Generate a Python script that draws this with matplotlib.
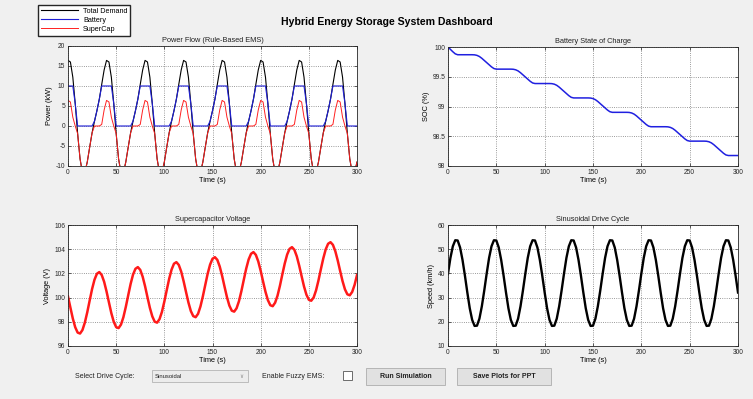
import numpy as np
import matplotlib.pyplot as plt
from matplotlib.patches import Rectangle

# ====================== data (2.5 s samples, 0..300 s) ======================
time_s = np.arange(121) * 2.5

total_demand = [
    16.4, 16.0, 12.2, 5.6, -1.9, -8.2, -11.7, -11.6, -9.0, -5.3, -1.7, 1.2, 3.8, 6.7, 10.4, 14.0,
    16.4, 16.0, 12.2, 5.6, -1.9, -8.2, -11.7, -11.6, -9.0, -5.3, -1.7, 1.2, 3.8, 6.7, 10.4, 14.0,
    16.4, 16.0, 12.2, 5.6, -1.9, -8.2, -11.7, -11.6, -9.0, -5.3, -1.7, 1.2, 3.8, 6.7, 10.4, 14.0,
    16.4, 16.0, 12.2, 5.6, -1.9, -8.2, -11.7, -11.6, -9.0, -5.3, -1.7, 1.2, 3.8, 6.7, 10.4, 14.0,
    16.4, 16.0, 12.2, 5.6, -1.9, -8.2, -11.7, -11.6, -9.0, -5.3, -1.7, 1.2, 3.8, 6.7, 10.4, 14.0,
    16.4, 16.0, 12.2, 5.6, -1.9, -8.2, -11.7, -11.6, -9.0, -5.3, -1.7, 1.2, 3.8, 6.7, 10.4, 14.0,
    16.4, 16.0, 12.2, 5.6, -1.9, -8.2, -11.7, -11.6, -9.0, -5.3, -1.7, 1.2, 3.8, 6.7, 10.4, 14.0,
    16.4, 16.0, 12.2, 5.6, -1.9, -8.2, -11.7, -11.6, -9.0,
]
battery_kw = [
    10, 10, 10, 5.6, 0, 0, 0, 0, 0, 0, 0, 1.2, 3.8, 6.7, 10, 10,
    10, 10, 10, 5.6, 0, 0, 0, 0, 0, 0, 0, 1.2, 3.8, 6.7, 10, 10,
    10, 10, 10, 5.6, 0, 0, 0, 0, 0, 0, 0, 1.2, 3.8, 6.7, 10, 10,
    10, 10, 10, 5.6, 0, 0, 0, 0, 0, 0, 0, 1.2, 3.8, 6.7, 10, 10,
    10, 10, 10, 5.6, 0, 0, 0, 0, 0, 0, 0, 1.2, 3.8, 6.7, 10, 10,
    10, 10, 10, 5.6, 0, 0, 0, 0, 0, 0, 0, 1.2, 3.8, 6.7, 10, 10,
    10, 10, 10, 5.6, 0, 0, 0, 0, 0, 0, 0, 1.2, 3.8, 6.7, 10, 10,
    10, 10, 10, 5.6, 0, 0, 0, 0, 0,
]
supercap_kw = [
    6.4, 6.0, 2.2, 0, -1.9, -8.2, -11.7, -11.6, -9.0, -5.3, -1.7, 0, 0, 0, 0.4, 4.0,
    6.4, 6.0, 2.2, 0, -1.9, -8.2, -11.7, -11.6, -9.0, -5.3, -1.7, 0, 0, 0, 0.4, 4.0,
    6.4, 6.0, 2.2, 0, -1.9, -8.2, -11.7, -11.6, -9.0, -5.3, -1.7, 0, 0, 0, 0.4, 4.0,
    6.4, 6.0, 2.2, 0, -1.9, -8.2, -11.7, -11.6, -9.0, -5.3, -1.7, 0, 0, 0, 0.4, 4.0,
    6.4, 6.0, 2.2, 0, -1.9, -8.2, -11.7, -11.6, -9.0, -5.3, -1.7, 0, 0, 0, 0.4, 4.0,
    6.4, 6.0, 2.2, 0, -1.9, -8.2, -11.7, -11.6, -9.0, -5.3, -1.7, 0, 0, 0, 0.4, 4.0,
    6.4, 6.0, 2.2, 0, -1.9, -8.2, -11.7, -11.6, -9.0, -5.3, -1.7, 0, 0, 0, 0.4, 4.0,
    6.4, 6.0, 2.2, 0, -1.9, -8.2, -11.7, -11.6, -9.0,
]

soc_pct = [
    100.00, 99.96, 99.92, 99.885, 99.87, 99.87, 99.87, 99.87, 99.87, 99.87, 99.87,
    99.868, 99.859, 99.840, 99.810, 99.774, 99.738, 99.702, 99.666, 99.638, 99.628,
    99.628, 99.628, 99.628, 99.628, 99.628, 99.628,
    99.626, 99.617, 99.598, 99.568, 99.532, 99.496, 99.460, 99.424, 99.396, 99.386,
    99.386, 99.386, 99.386, 99.386, 99.386, 99.386,
    99.384, 99.375, 99.356, 99.326, 99.290, 99.254, 99.218, 99.182, 99.154, 99.144,
    99.144, 99.144, 99.144, 99.144, 99.144, 99.144,
    99.142, 99.133, 99.114, 99.084, 99.048, 99.012, 98.976, 98.940, 98.912, 98.902,
    98.902, 98.902, 98.902, 98.902, 98.902, 98.902,
    98.900, 98.891, 98.872, 98.842, 98.806, 98.770, 98.734, 98.698, 98.670, 98.660,
    98.660, 98.660, 98.660, 98.660, 98.660, 98.660,
    98.658, 98.649, 98.630, 98.600, 98.564, 98.528, 98.492, 98.456, 98.428, 98.418,
    98.418, 98.418, 98.418, 98.418, 98.418, 98.418,
    98.416, 98.407, 98.388, 98.358, 98.322, 98.286, 98.250, 98.214, 98.186, 98.176,
    98.176, 98.176, 98.176, 98.176,
]

sc_voltage = [
    100.09, 99.17, 98.27, 97.55, 97.11, 97.03, 97.32, 97.94, 98.79, 99.76,
    100.71, 101.48, 101.97, 102.11, 101.87, 101.31, 100.51, 99.60, 98.71, 98.00,
    97.56, 97.48, 97.77, 98.38, 99.23, 100.19, 101.13, 101.90, 102.38, 102.52,
    102.29, 101.73, 100.94, 100.03, 99.15, 98.45, 98.01, 97.93, 98.22, 98.82,
    99.67, 100.62, 101.55, 102.31, 102.80, 102.93, 102.70, 102.15, 101.36, 100.47,
    99.60, 98.89, 98.47, 98.38, 98.66, 99.27, 100.11, 101.05, 101.98, 102.73,
    103.21, 103.34, 103.12, 102.57, 101.79, 100.90, 100.04, 99.34, 98.92, 98.84,
    99.12, 99.71, 100.54, 101.48, 102.40, 103.15, 103.62, 103.76, 103.53, 102.99,
    102.22, 101.33, 100.48, 99.79, 99.37, 99.29, 99.58, 100.16, 100.98, 101.92,
    102.82, 103.56, 104.03, 104.17, 103.95, 103.41, 102.64, 101.77, 100.92, 100.24,
    99.82, 99.74, 100.01, 100.60, 101.42, 102.35, 103.24, 103.98, 104.45, 104.58,
    104.36, 103.83, 103.07, 102.20, 101.36, 100.68, 100.27, 100.19, 100.47, 101.05,
    101.86,
]

speed_kmh = [
    39.9, 46.4, 51.2, 53.7, 53.6, 50.7, 45.6, 39.1, 32.1, 25.6, 20.8, 18.3, 18.4, 21.3, 26.4, 32.9,
    39.9, 46.4, 51.2, 53.7, 53.6, 50.7, 45.6, 39.1, 32.1, 25.6, 20.8, 18.3, 18.4, 21.3, 26.4, 32.9,
    39.9, 46.4, 51.2, 53.7, 53.6, 50.7, 45.6, 39.1, 32.1, 25.6, 20.8, 18.3, 18.4, 21.3, 26.4, 32.9,
    39.9, 46.4, 51.2, 53.7, 53.6, 50.7, 45.6, 39.1, 32.1, 25.6, 20.8, 18.3, 18.4, 21.3, 26.4, 32.9,
    39.9, 46.4, 51.2, 53.7, 53.6, 50.7, 45.6, 39.1, 32.1, 25.6, 20.8, 18.3, 18.4, 21.3, 26.4, 32.9,
    39.9, 46.4, 51.2, 53.7, 53.6, 50.7, 45.6, 39.1, 32.1, 25.6, 20.8, 18.3, 18.4, 21.3, 26.4, 32.9,
    39.9, 46.4, 51.2, 53.7, 53.6, 50.7, 45.6, 39.1, 32.1, 25.6, 20.8, 18.3, 18.4, 21.3, 26.4, 32.9,
    39.9, 46.4, 51.2, 53.7, 53.6, 50.7, 45.6, 39.1, 32.1,
]

BG = "#f0f0f0"
W, H = 753, 399
TICK_FS = 4.8
LABEL_FS = 5.3

plt.rcParams["font.family"] = ["Liberation Sans", "DejaVu Sans"]
plt.rcParams["axes.unicode_minus"] = False

fig = plt.figure(figsize=(W / 100, H / 100), dpi=100, facecolor=BG)


def px_axes(x0, y0, x1, y1):
    # axes from pixel box (top-left origin)
    return fig.add_axes([x0 / W, 1 - y1 / H, (x1 - x0) / W, (y1 - y0) / H])


def style(ax, title, ylabel, ylim, yticks, yticklabels=None):
    ax.set_facecolor("white")
    ax.set_xlim(0, 300)
    ax.set_ylim(*ylim)
    ax.set_xticks(range(0, 301, 50))
    ax.set_yticks(yticks)
    if yticklabels is not None:
        ax.set_yticklabels(yticklabels)
    ax.tick_params(direction="in", length=2.5, width=0.5, labelsize=TICK_FS,
                   top=True, right=True, pad=2, colors="#262626")
    ax.grid(True, linestyle=":", color="#7a7a7a", linewidth=0.6)
    for s in ax.spines.values():
        s.set_color("#262626")
        s.set_linewidth(0.6)
    ax.set_title(title, fontsize=LABEL_FS, pad=3, color="#222222")
    ax.set_xlabel("Time (s)", fontsize=LABEL_FS, labelpad=1)
    ax.set_ylabel(ylabel, fontsize=LABEL_FS, labelpad=2)


# ---- power flow ----
ax1 = px_axes(68, 46, 357, 166)
l1, = ax1.plot(time_s, total_demand, color="black", lw=0.8)
l2, = ax1.plot(time_s, battery_kw, color="#1f1fd6", lw=0.8)
l3, = ax1.plot(time_s, supercap_kw, color="#ff2020", lw=0.7)
style(ax1, "Power Flow (Rule-Based EMS)", "Power (kW)", (-10, 20), range(-10, 21, 5))

# ---- SOC ----
ax2 = px_axes(448, 47, 738, 166)
ax2.plot(time_s, soc_pct, color="#2020e0", lw=1.1)
style(ax2, "Battery State of Charge", "SOC (%)", (98, 100),
      [98, 98.5, 99, 99.5, 100], ["98", "98.5", "99", "99.5", "100"])

# ---- supercap voltage ----
ax3 = px_axes(68, 225, 357, 346)
ax3.plot(time_s, sc_voltage, color="#ff1a1a", lw=1.8)
style(ax3, "Supercapacitor Voltage", "Voltage (V)", (96, 106), range(96, 107, 2))

# ---- drive cycle ----
ax4 = px_axes(448, 225, 738, 346)
ax4.plot(time_s, speed_kmh, color="black", lw=1.7)
style(ax4, "Sinusoidal Drive Cycle", "Speed (km/h)", (10, 60), range(10, 61, 10))

# legend box top-left
fig.legend([l1, l2, l3], ["Total Demand", "Battery", "SuperCap"],
           loc="upper left", bbox_to_anchor=(38 / W, 1 - 5 / H),
           fontsize=5.2, frameon=True, fancybox=False, edgecolor="#262626",
           handlelength=5.2, handletextpad=0.7, borderpad=0.35, labelspacing=0.3,
           borderaxespad=0, facecolor="white", framealpha=1)

fig.text(387 / W, 1 - 22 / H, "Hybrid Energy Storage System Dashboard",
         ha="center", va="center", fontsize=7.6, fontweight="bold")

# ---- control strip at the bottom ----
def box(x0, y0, x1, y1, face, edge):
    fig.patches.append(Rectangle((x0 / W, 1 - y1 / H), (x1 - x0) / W, (y1 - y0) / H,
                                 transform=fig.transFigure, facecolor=face,
                                 edgecolor=edge, linewidth=0.6))

ctrl_y = 1 - 376 / H
fig.text(75 / W, ctrl_y, "Select Drive Cycle:", fontsize=5, va="center", color="#222222")
box(152, 370, 248, 382, "#ececec", "#b4b4b4")
fig.text(155 / W, ctrl_y, "Sinusoidal", fontsize=4.2, va="center", color="#222222")
fig.text(241 / W, ctrl_y, "\u2228", fontsize=4, va="center", ha="center", color="#888888")
fig.text(262 / W, ctrl_y, "Enable Fuzzy EMS:", fontsize=5, va="center", color="#222222")
box(343, 371, 352, 380, "white", "#555555")
box(366, 368, 445, 385, "#e1e1e1", "#adadad")
fig.text(405.5 / W, 1 - 376.5 / H, "Run Simulation", fontsize=5, fontweight="bold",
         ha="center", va="center", color="#222222")
box(457, 368, 551, 385, "#e1e1e1", "#adadad")
fig.text(504 / W, 1 - 376.5 / H, "Save Plots for PPT", fontsize=5, fontweight="bold",
         ha="center", va="center", color="#222222")

fig.savefig("out.png", dpi=100, facecolor=BG)
